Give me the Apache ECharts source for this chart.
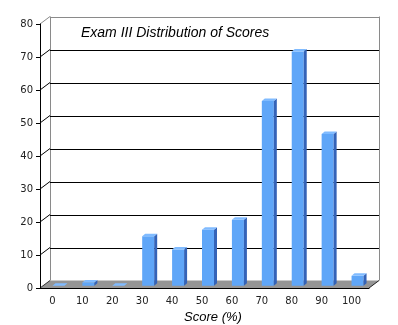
<!DOCTYPE html>
<html>
<head>
<meta charset="utf-8">
<script src="https://cdn.jsdelivr.net/npm/echarts@6/dist/echarts.min.js"></script>
<style>html,body{margin:0;padding:0;background:#fff;}#c{width:398px;height:325px;}</style>
</head>
<body>
<div id="c"></div>
<script>
var categories = ['0','10','20','30','40','50','60','70','80','90','100'];
var counts = [0, 1, 0, 15, 11, 17, 20, 56, 71, 46, 3];
var yTicks = [0, 10, 20, 30, 40, 50, 60, 70, 80];
var titleText = 'Exam III Distribution of Scores';
var xName = 'Score (%)';

var DX = 10, DY = 7.5;
var chart = echarts.init(document.getElementById('c'), null, {renderer: 'canvas'});

function px(v){ return Math.round(v) + 0.5; }

function frameItem(params, api) {
  var v = api.value(1);
  var bw = api.size([1, 0])[0];
  var p0 = api.coord([0, v]);
  var pN = api.coord([categories.length - 1, v]);
  var L = p0[0] - bw / 2, R = pN[0] + bw / 2;
  var y = p0[1];
  var children = [];
  var gray = '#8a8a8a';
  var top = (v === yTicks[yTicks.length - 1]);
  if (v === 0) {
    var yTop = api.coord([0, yTicks[yTicks.length - 1]])[1];
    children.push({type: 'polygon', shape: {points: [[L, y], [R, y], [R + DX, y - DY], [L + DX, y - DY]]},
      style: {fill: '#959595'}});
    children.push({type: 'line', shape: {x1: px(L + DX), y1: y - DY, x2: px(L + DX), y2: yTop - DY}, style: {stroke: gray, lineWidth: 1}});
    children.push({type: 'line', shape: {x1: px(R + DX), y1: y - DY, x2: px(R + DX), y2: yTop - DY}, style: {stroke: gray, lineWidth: 1}});
    children.push({type: 'line', shape: {x1: L, y1: y, x2: L + DX, y2: y - DY}, style: {stroke: '#333', lineWidth: 1}});
    children.push({type: 'line', shape: {x1: R, y1: y, x2: R + DX, y2: y - DY}, style: {stroke: '#222', lineWidth: 1}});
  } else {
    children.push({type: 'line', shape: {x1: L, y1: y, x2: L + DX, y2: y - DY}, style: {stroke: top ? gray : '#000', lineWidth: 1}});
    children.push({type: 'line', shape: {x1: L + DX, y1: px(y - DY), x2: R + DX, y2: px(y - DY)}, style: {stroke: top ? gray : '#000', lineWidth: 1}});
  }
  return {type: 'group', children: children};
}

function barItem(params, api) {
  var i = api.value(0), v = api.value(1);
  var c = api.coord([i, v]);
  var b = api.coord([i, 0]);
  var w = 12, d = 3, dd = 2.5;
  var x0 = c[0] + 3.5 - w / 2, x1 = x0 + w;
  var yT = c[1] - 2.25, yB = b[1] - 2.25;
  return {type: 'group', children: [
    {type: 'rect', shape: {x: x0, y: yT, width: w, height: yB - yT}, style: {fill: '#5fa6f8'}},
    {type: 'polygon', shape: {points: [[x1, yB], [x1, yT], [x1 + d, yT - dd], [x1 + d, yB - dd]]}, style: {fill: '#3463b8'}},
    {type: 'polygon', shape: {points: [[x0, yT], [x1, yT], [x1 + d, yT - dd], [x0 + d, yT - dd]]}, style: {fill: '#80bbff'}}
  ]};
}

var option = {
  backgroundColor: '#fff',
  animation: false,
  title: {
    text: titleText, left: 76, top: 21,
    textStyle: {fontFamily: 'Liberation Sans', fontStyle: 'italic', fontWeight: 'normal', fontSize: 14, color: '#000'}
  },
  grid: {left: 40, right: 29, top: 24, bottom: 37, containLabel: false, outerBoundsMode: 'none'},
  xAxis: {
    type: 'category', data: categories,
    name: xName, nameLocation: 'middle', nameGap: 17,
    nameTextStyle: {fontFamily: 'Liberation Sans', fontStyle: 'italic', fontSize: 13, color: '#000', padding: [0, 0, 0, 17]},
    axisLine: {lineStyle: {color: '#000', width: 1}},
    axisTick: {length: 5, lineStyle: {color: '#000'}},
    axisLabel: {fontFamily: 'DejaVu Sans', fontSize: 10, color: '#222', margin: 8, padding: [0, 5, 0, 0]},
    splitLine: {show: false}, z: 10
  },
  yAxis: {
    type: 'value', min: 0, max: 80, interval: 10,
    axisLine: {show: true, lineStyle: {color: '#000', width: 1}},
    axisTick: {show: true, length: 4, lineStyle: {color: '#000'}},
    axisLabel: {fontFamily: 'DejaVu Sans', fontSize: 10, color: '#222', margin: 7},
    splitLine: {show: false}, z: 10
  },
  series: [
    {type: 'custom', renderItem: frameItem, data: yTicks.map(function (v) { return [0, v]; }), z: 1, silent: true},
    {type: 'custom', renderItem: barItem, data: counts.map(function (v, i) { return [i, v]; }), z: 5}
  ]
};
chart.setOption(option);
</script>
</body>
</html>
